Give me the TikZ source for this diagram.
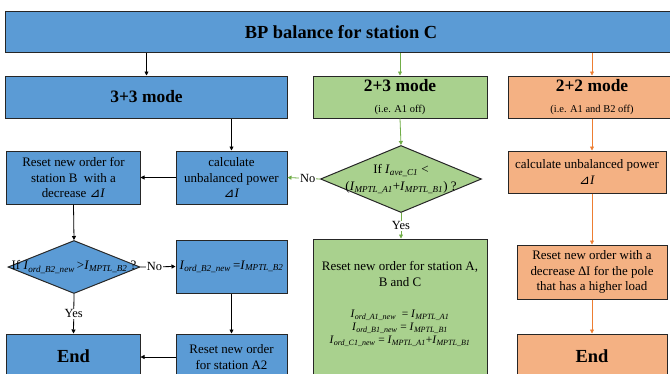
\documentclass[tikz,border=0pt]{standalone}
\usepackage{fontspec}
\setmainfont{Liberation Serif}
\newfontfamily\symfont{DejaVu Sans}
\usetikzlibrary{shapes.geometric,arrows.meta}
\definecolor{blueF}{HTML}{5B9BD5}
\definecolor{greenF}{HTML}{A9D18E}
\definecolor{orangeF}{HTML}{F4B183}
\definecolor{gline}{HTML}{70AD47}
\definecolor{oline}{HTML}{ED7D31}
\definecolor{edge}{HTML}{262626}
\newcommand{\cur}[1]{\textit{I}\textsubscript{\textit{#1}}}
\newcommand{\dI}{{\symfont\itshape ⊿}\textit{I}}
\newcommand{\eqf}{\fontsize{11.5}{12}\selectfont}

\begin{document}
\begin{tikzpicture}[x=1bp, y=-1bp,
	box/.style={draw=edge, line width=1bp, align=center, inner sep=2bp,
		font=\fontsize{13}{15.5}\selectfont},
	bbox/.style={box, fill=blueF},
	gbox/.style={box, fill=greenF},
	obox/.style={box, fill=orangeF},
	head/.style={font=\fontsize{17.5}{21}\selectfont\bfseries},
	endtxt/.style={font=\fontsize{18.5}{22}\selectfont\bfseries},
	cond/.style={diamond, draw=edge, line width=1bp, inner sep=0pt},
	condtxt/.style={align=center, inner sep=0pt, font=\fontsize{13}{17}\selectfont},
	arr/.style={-{Triangle[length=4bp,width=4bp]}, line width=0.8bp, draw=black},
	garr/.style={arr, draw=gline},
	oarr/.style={arr, draw=oline},
	lbl/.style={fill=white, inner sep=1bp, font=\fontsize{12.5}{14}\selectfont}]
	%frame
	\useasboundingbox (0,0) rectangle (670,373);
	%title
	\node[bbox, head, font=\fontsize{18.5}{22}\selectfont\bfseries,
		minimum width=670bp, minimum height=41bp] (top) at (341,32)
		{BP balance for station C};
	%modes
	\node[bbox, head, minimum width=281bp, minimum height=42bp] (m33) at (146.5,97)
		{3+3 mode};
	\node[gbox, head, minimum width=174bp, minimum height=42bp] (m23) at (400,97)
		{2+3 mode\\{\fontsize{10.5}{12}\selectfont\mdseries (i.e. A1 off)}};
	\node[obox, head, minimum width=168bp, minimum height=42bp] (m22) at (592,97)
		{2+2 mode\\{\fontsize{10.5}{12}\selectfont\mdseries (i.e. A1 and B2 off)}};
	%3+3 mode
	\node[bbox, minimum width=111bp, minimum height=53bp] (calcB) at (231.5,177.5)
		{calculate\\unbalanced power\\\dI};
	\node[bbox, minimum width=133bp, minimum height=53bp] (resetB) at (73.5,177.5)
		{Reset new order for\\station B\ \ with a\\decrease \dI};
	\node[cond, fill=blueF, minimum width=132bp, minimum height=53bp] (ifB) at (74,267) {};
	\node[condtxt] (ifBtext) at (ifB) {If \cur{ord\_B2\_new}\,>\cur{MPTL\_B2} ?};
	\node[bbox, minimum width=111bp, minimum height=53bp] (ordB) at (231.5,266.5)
		{\cur{ord\_B2\_new}\,=\cur{MPTL\_B2}};
	\node[bbox, endtxt, minimum width=133bp, minimum height=44bp] (endB) at (73.5,356)
		{End};
	\node[bbox, minimum width=111bp, minimum height=46bp] (resetA2) at (231.5,357)
		{Reset new order\\for station A2};
	%2+3 mode
	\node[cond, fill=greenF, minimum width=161bp, minimum height=67bp] (ifC) at (401,179) {};
	\node[condtxt] (ifCtext) at (ifC)
		{If \cur{ave\_C1} <\\(\cur{MPTL\_A1}+\cur{MPTL\_B1}) ?};
	\node[gbox, minimum width=174bp, minimum height=161bp, text depth=34bp] (resetG) at (400,319.5)
		{Reset new order for station A,\\B and C\\[16bp]
		{\eqf \cur{ord\_A1\_new}\ \ = \cur{MPTL\_A1}}\\[-2.5bp]
		{\eqf \cur{ord\_B1\_new} = \cur{MPTL\_B1}}\\[-2.5bp]
		{\eqf \cur{ord\_C1\_new} = \cur{MPTL\_A1}+\cur{MPTL\_B1}}};
	%2+2 mode
	\node[obox, minimum width=158bp, minimum height=42bp] (calcO) at (587,172)
		{calculate unbalanced power\\\dI};
	\node[obox, minimum width=150bp, minimum height=54bp] (resetO) at (592,272)
		{Reset new order with a\\decrease ∆I for the pole\\that has a higher load};
	\node[obox, endtxt, minimum width=150bp, minimum height=44bp] (endO) at (592,356)
		{End};
	%arrows
	\draw[arr] (top.south -| m33.north) -- (m33.north);
	\draw[garr] (top.south -| m23.north) -- (m23.north);
	\draw[oarr] (top.south -| m22.north) -- (m22.north);
	\draw[arr] (m33.south -| calcB.north) -- (calcB.north);
	\draw[arr] (calcB.west) -- (resetB.east);
	\draw[arr] (resetB.south) -- (ifB.north);
	\draw[arr] (ifB.east) -- node[lbl, pos=0.4] (noB) {No} (ordB.west);
	\draw[arr] (ifB.south) -- node[lbl] (yesB) {Yes} (endB.north);
	\draw[arr] (ordB.south) -- (resetA2.north);
	\draw[arr] (resetA2.west) -- (resetA2.west -| endB.east);
	\draw[garr] (m23.south) -- (ifC.north);
	\draw[garr] (ifC.west) -- node[lbl, pos=0.38] (noC) {No} (calcB.east);
	\draw[garr] (ifC.south) -- node[lbl] (yesC) {Yes} (ifC.south |- resetG.north);
	\draw[oarr] (m22.south) -- (m22.south |- calcO.north);
	\draw[oarr] (calcO.south -| resetO.north) -- (resetO.north);
	\draw[oarr] (resetO.south) -- (endO.north);
\end{tikzpicture}
\end{document}
